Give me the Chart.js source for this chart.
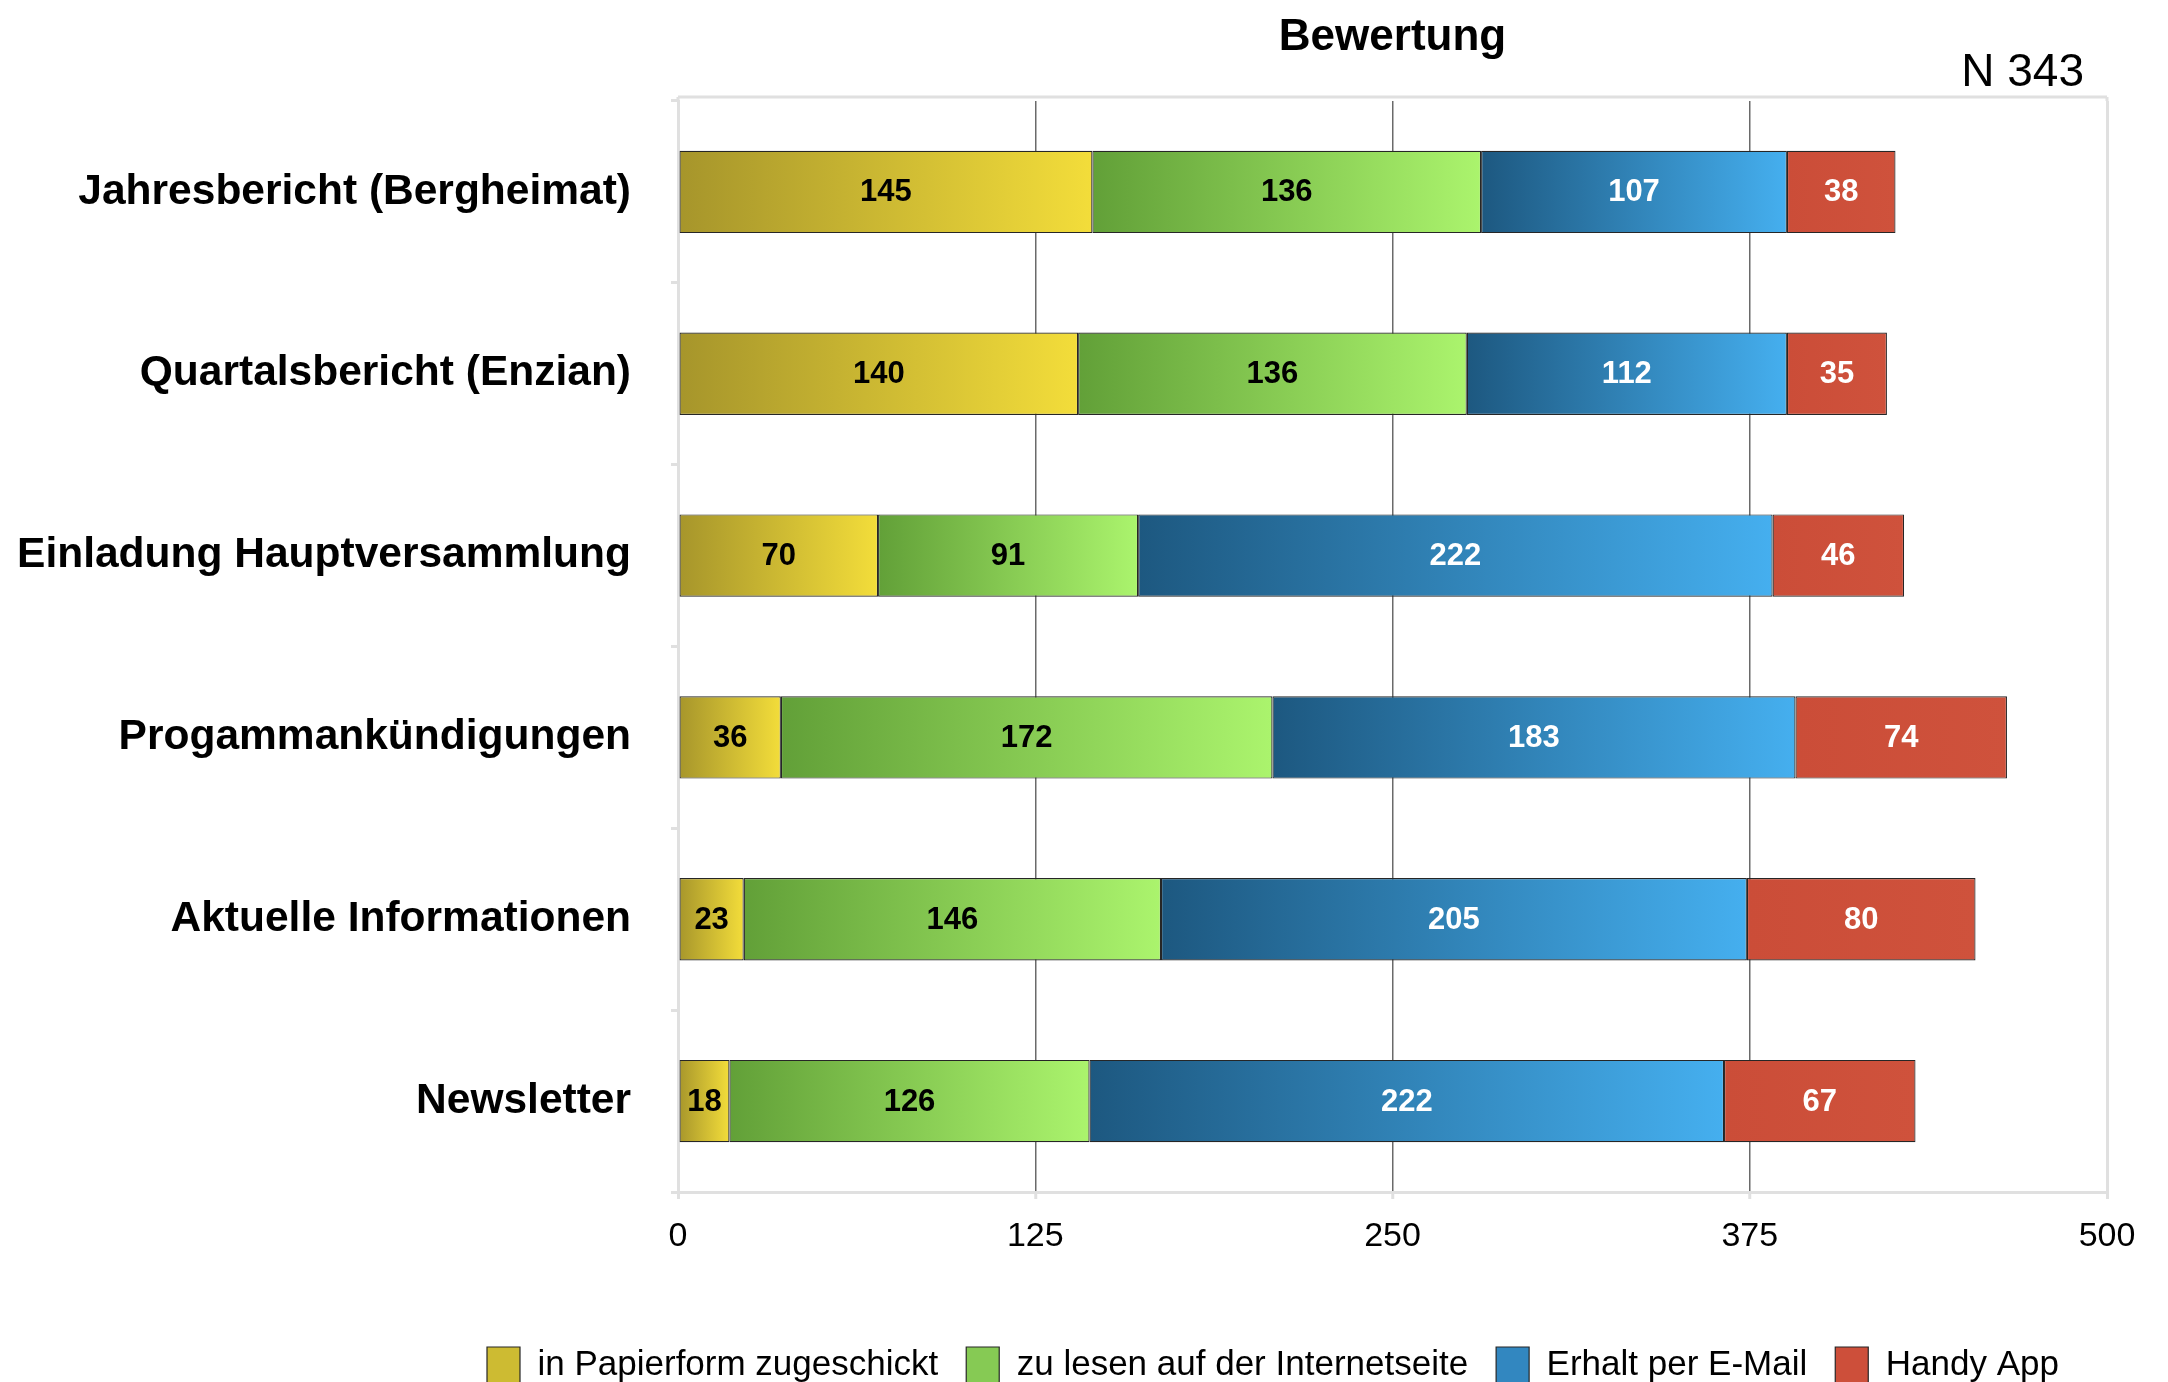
<!DOCTYPE html>
<html>
<head>
<meta charset="utf-8">
<script src="https://cdn.jsdelivr.net/npm/chart.js@4.4.1/dist/chart.umd.min.js"></script>
<style>
  html, body { margin: 0; padding: 0; background: #ffffff; }
  #wrap { width: 2168px; height: 1382px; position: relative; }
</style>
</head>
<body>
<div id="wrap"><canvas id="c" width="2168" height="1382"></canvas></div>
<script>
// ---- Data ----
const categories = [
  'Jahresbericht (Bergheimat)',
  'Quartalsbericht (Enzian)',
  'Einladung Hauptversammlung',
  'Progammankündigungen',
  'Aktuelle Informationen',
  'Newsletter'
];
const seriesNames = [
  'in Papierform zugeschickt',
  'zu lesen auf der Internetseite',
  'Erhalt per E-Mail',
  'Handy App'
];
const papier   = [145, 140, 70, 36, 23, 18];
const internet = [136, 136, 91, 172, 146, 126];
const email    = [107, 112, 222, 183, 205, 222];
const handy    = [38, 35, 46, 74, 80, 67];
const seriesValues = [papier, internet, email, handy];
const xTicks = [0, 125, 250, 375, 500];
const chartTitle = 'Bewertung';
const sampleNote = 'N 343';

// ---- Styles ----
const gradientStops = [
  ['#A6952B', '#F3DD3A'],
  ['#62A038', '#ABF46D'],
  ['#1D5880', '#45AFEF'],
  ['#CB4D38', '#CF523C']
];
const legendFill = ['#CDBB32', '#86CA54', '#3287C0', '#CD4F3A'];
const labelColors = ['#000000', '#000000', '#ffffff', '#ffffff'];
const FONT = '"Liberation Sans", Arial, Helvetica, sans-serif';

function segmentGradient(context, i) {
  const chart = context.chart;
  const area = chart.chartArea;
  const j = context.dataIndex;
  if (!area || j === undefined || !chart.scales.x) return legendFill[i];
  let start = 0;
  for (let k = 0; k < i; k++) start += seriesValues[k][j];
  const end = start + seriesValues[i][j];
  const xs = chart.scales.x;
  const x0 = xs.getPixelForValue(start);
  const x1 = xs.getPixelForValue(end);
  const g = chart.ctx.createLinearGradient(x0, 0, x1, 0);
  g.addColorStop(0, gradientStops[i][0]);
  g.addColorStop(1, gradientStops[i][1]);
  return g;
}

const datasets = seriesValues.map((vals, i) => ({
  label: seriesNames[i],
  data: vals,
  backgroundColor: (ctx) => segmentGradient(ctx, i),
  borderColor: '#262626',
  borderWidth: 1.2,
  borderSkipped: false,
  barPercentage: 0.453,
  categoryPercentage: 1.0
}));

const frameAndText = {
  id: 'frameAndText',
  afterLayout(chart) {
    const lg = chart.legend;
    if (lg && lg.lineWidths) {
      const pad = lg.options.labels.padding;
      const curStart = (lg.left + pad + lg.right - lg.lineWidths[0]) / 2;
      const dx = 487 - curStart;
      lg.left += dx; lg.right += dx;
      const dy = (1347 - pad) - lg.top;
      lg.top += dy; lg.bottom += dy;
    }
  },
  beforeDatasetsDraw(chart) {
    const {ctx, chartArea: a} = chart;
    ctx.save();
    ctx.strokeStyle = '#e0e0e0';
    ctx.lineWidth = 3;
    ctx.beginPath();
    ctx.moveTo(a.left, a.top - 4);
    ctx.lineTo(a.right, a.top - 4);
    ctx.moveTo(a.left, a.top - 4);
    ctx.lineTo(a.left, a.top);
    ctx.moveTo(a.right, a.top - 4);
    ctx.lineTo(a.right, a.top);
    ctx.stroke();
    ctx.restore();
  },
  afterDatasetsDraw(chart) {
    const ctx = chart.ctx;
    ctx.save();
    ctx.font = 'bold 31px ' + FONT;
    ctx.textAlign = 'center';
    ctx.textBaseline = 'middle';
    chart.data.datasets.forEach((ds, i) => {
      const meta = chart.getDatasetMeta(i);
      ctx.fillStyle = labelColors[i];
      meta.data.forEach((bar, j) => {
        const cx = (bar.x + bar.base) / 2;
        ctx.fillText(String(ds.data[j]), cx, bar.y + 1);
      });
    });
    ctx.restore();
  },
  afterDraw(chart) {
    const {ctx, chartArea: a} = chart;
    ctx.save();
    ctx.fillStyle = '#000';
    ctx.textBaseline = 'alphabetic';
    ctx.font = 'bold 44px ' + FONT;
    ctx.textAlign = 'center';
    ctx.fillText(chartTitle, (a.left + a.right) / 2, 50);
    ctx.font = '46px ' + FONT;
    ctx.textAlign = 'right';
    ctx.fillText(sampleNote, a.right - 23, 86);
    ctx.restore();
  }
};

new Chart(document.getElementById('c'), {
  type: 'bar',
  data: { labels: categories, datasets },
  plugins: [frameAndText],
  options: {
    indexAxis: 'y',
    responsive: false,
    animation: false,
    devicePixelRatio: 1,
    layout: { padding: { top: 101, right: 61, bottom: 0, left: 0 } },
    plugins: {
      title: { display: false },
      tooltip: { enabled: false },
      legend: {
        display: true,
        position: 'bottom',
        labels: {
          color: '#000',
          font: { family: FONT, size: 35 },
          boxWidth: 33,
          boxHeight: 36,
          padding: 28,
          generateLabels(chart) {
            return chart.data.datasets.map((ds, i) => ({
              text: ds.label,
              fillStyle: legendFill[i],
              strokeStyle: '#262626',
              lineWidth: 1.2,
              hidden: false,
              datasetIndex: i
            }));
          }
        }
      }
    },
    scales: {
      x: {
        stacked: true,
        min: 0,
        max: 500,
        afterBuildTicks(scale) { scale.ticks = xTicks.map(v => ({ value: v })); },
        afterFit(scale) {
          const lh = scale.chart.legend ? scale.chart.legend.height : 90;
          scale.height = 1382 - 1192 - lh;
        },
        ticks: {
          color: '#000',
          font: { family: FONT, size: 34 },
          padding: 17
        },
        grid: {
          color: (c) => (c.tick && (c.tick.value === 0 || c.tick.value === 500)) ? '#e0e0e0' : '#6a6a6a',
          lineWidth: (c) => (c.tick && (c.tick.value === 0 || c.tick.value === 500)) ? 3 : 1.5,
          tickColor: '#e0e0e0',
          tickWidth: 3,
          tickLength: 7,
          drawTicks: true
        },
        border: { display: true, color: '#e0e0e0', width: 3 }
      },
      y: {
        stacked: true,
        afterFit(scale) { scale.width = 678; },
        ticks: {
          color: '#000',
          font: { family: FONT, size: 42.5, weight: 'bold' },
          padding: 40
        },
        grid: {
          drawOnChartArea: false,
          drawTicks: true,
          tickLength: 7,
          color: '#e0e0e0',
          tickColor: '#e0e0e0',
          lineWidth: 3,
          offset: true
        },
        border: { display: true, color: '#e0e0e0', width: 3 }
      }
    }
  }
});
</script>
</body>
</html>
